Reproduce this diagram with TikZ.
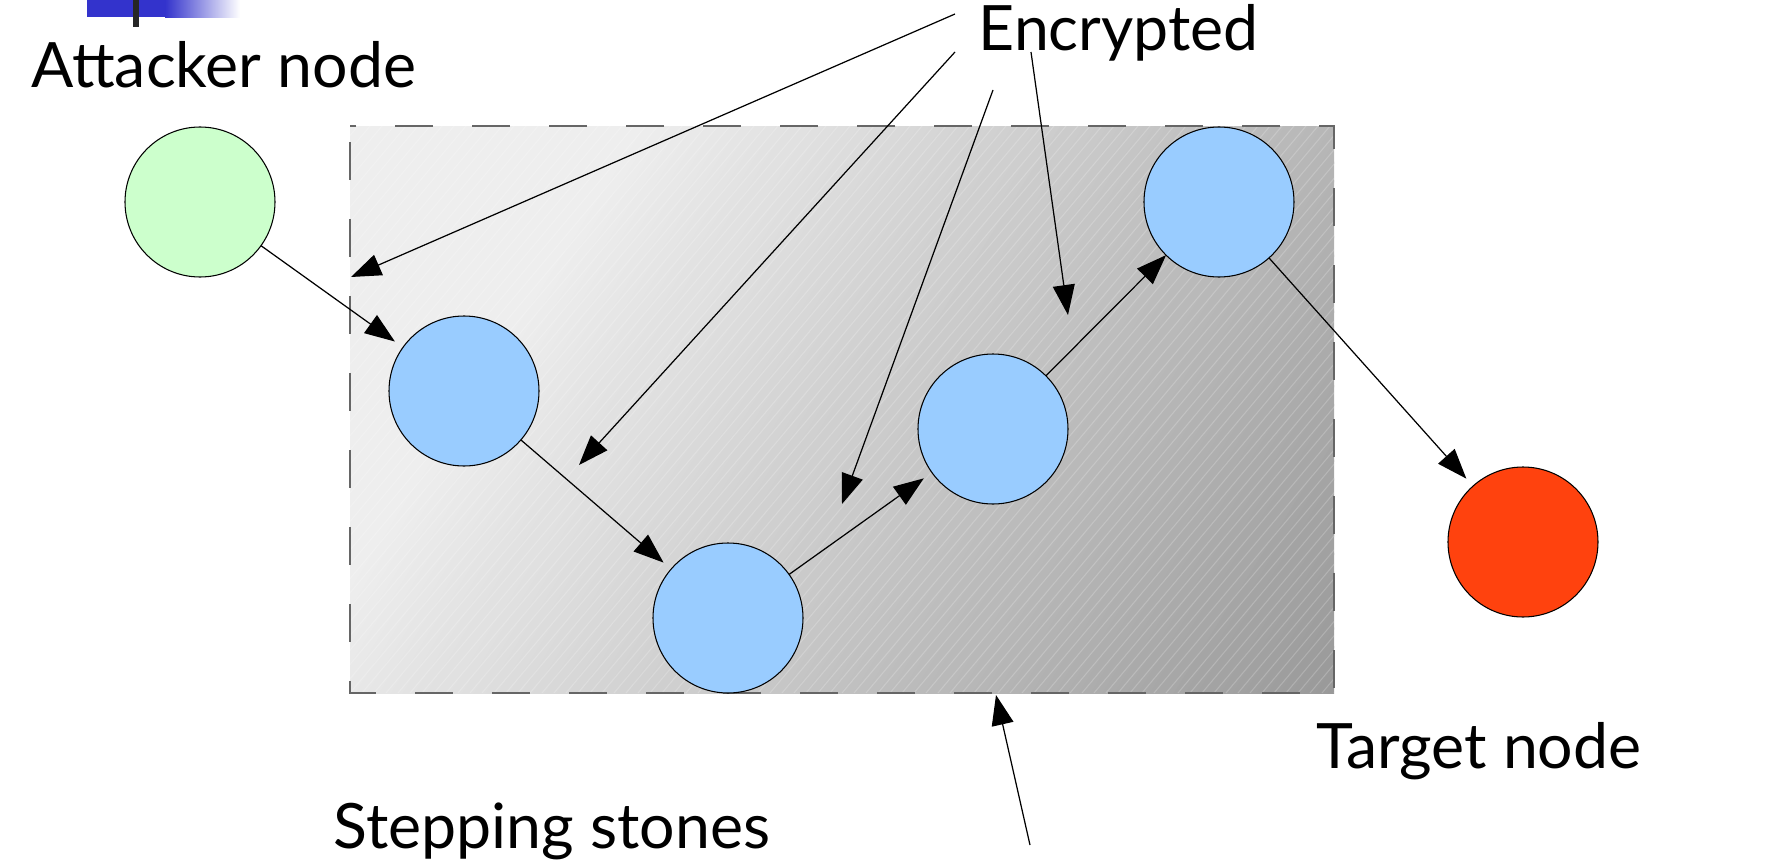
\documentclass[tikz,border=0pt]{standalone}
\usepackage{fontspec}
\setmainfont{Lato}
\usetikzlibrary{arrows.meta, positioning, calc}
\definecolor{stoneblue}{HTML}{99CCFF}
\definecolor{attackgreen}{HTML}{CCFFCC}
\definecolor{targetred}{HTML}{FF420E}
\definecolor{barblue}{HTML}{3333CC}
\definecolor{edgegray}{HTML}{666666}
\definecolor{boxlight}{HTML}{EEEEEE}

\begin{document}
\begin{tikzpicture}[
    x=0.1mm, y=-0.1mm, >=Stealth,
    host/.style={circle, draw=black, line width=0.3pt, fill=#1,
                 minimum size=15mm, inner sep=0pt, outer sep=0pt},
    txt/.style={anchor=base west, inner sep=0pt, font=\fontsize{17.8}{20}\selectfont},
    arr/.style={-{Triangle[length=3mm,width=2.2mm]}, line width=0.35pt},
]
\useasboundingbox (0,0) rectangle (1778,865);

% slide header bar
\fill[barblue] (87,0) rectangle (165,17);
\shade[left color=barblue, right color=white] (165,0) rectangle (240,17);
\fill[black!85] (133,0) rectangle (139,27);

% stepping-stone region: light corner, then a diagonal fade and faint hatching
\fill[boxlight] (350,126) rectangle (1334,693);
\begin{scope}
  \clip (350,126) rectangle (1334,693);
  \foreach \i [evaluate=\i as \s using 602+10*\i, evaluate=\i as \k using 6.7+0.374*\i] in {0,...,89}
    \fill[black!\k] ({0.844*\s+375.9},{0.537*\s-590.8}) -- ({0.844*(\s+11)+375.9},{0.537*(\s+11)-590.8})
      -- ({0.844*(\s+11)-268.5},{0.537*(\s+11)+422}) -- ({0.844*\s-268.5},{0.537*\s+422}) -- cycle;
  \foreach \hx in {-130,-118,...,1334}
    \draw[white, opacity=0.2, line width=0.3pt] (\hx,693) -- ++(476,-567);
\end{scope}
\draw[edgegray, line width=0.55pt, dash pattern=on 3.8mm off 3.9mm, dash phase=6.1mm]
  (350,126) rectangle (1334,693);

% hosts
\node[host=attackgreen] (att) at (200,202) {};
\node[host=stoneblue] (hop1) at (464,391) {};
\node[host=stoneblue] (hop2) at (728,618) {};
\node[host=stoneblue] (hop3) at (993,429) {};
\node[host=stoneblue] (hop4) at (1219,202) {};
\node[host=targetred] (tgt) at (1523,542) {};

% labels
\node[txt] (atttext) at (31,88) {Attacker node};
\node[txt] (enctext) at (978,50) {Encrypted};
\node[txt] (tgttext) at (1316,768) {Target node};
\node[txt] (steptext) at (333,848) {Stepping stones};

% hop chain
\draw[arr, shorten >=1mm] (att) -- (hop1);
\draw[arr, shorten >=1mm] (hop1) -- (hop2);
\draw[arr, shorten >=1mm] (hop2) -- (hop3);
\draw[arr] (hop3) -- (hop4);
\draw[arr, shorten >=1mm] (hop4) -- (tgt);

% pointers from the captions
\coordinate (encA) at (955,14);   \coordinate (linkA) at (351,277);
\coordinate (encB) at (955,52);   \coordinate (linkB) at (579,465);
\coordinate (encC) at (993,90);   \coordinate (linkC) at (842,504);
\coordinate (encD) at (1031,52);  \coordinate (linkD) at (1068,315);
\coordinate (stepfoot) at (1030,845); \coordinate (boxedge) at (996,695);
\draw[arr] (encA) -- (linkA);
\draw[arr] (encB) -- (linkB);
\draw[arr] (encC) -- (linkC);
\draw[arr] (encD) -- (linkD);
\draw[arr] (stepfoot) -- (boxedge);
\end{tikzpicture}
\end{document}
